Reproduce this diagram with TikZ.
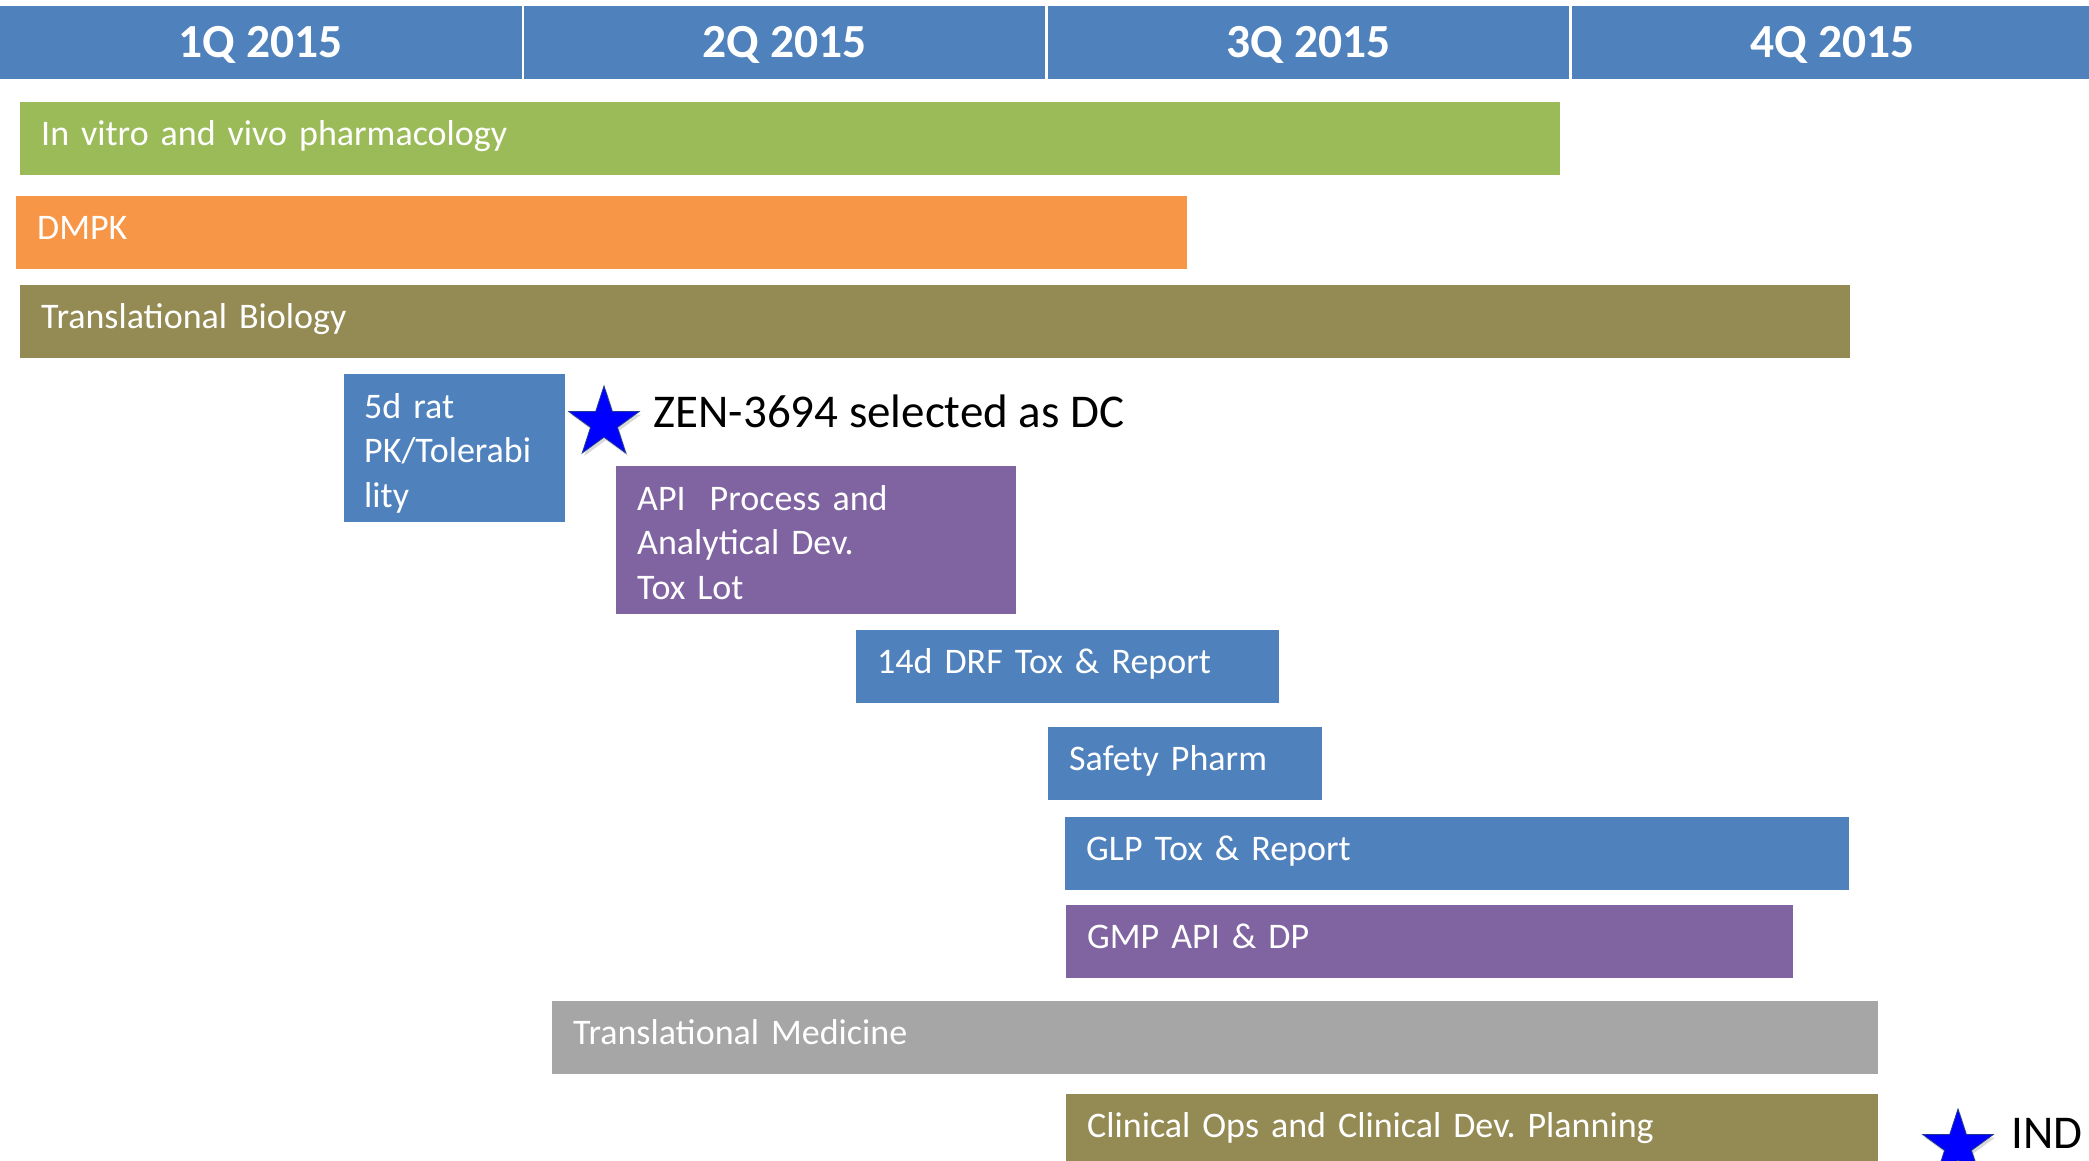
\documentclass[tikz,border=0pt]{standalone}
\usepackage{fontspec}
\setmainfont{Carlito}
\usepackage{xcolor}
\usepackage{tikz}
\usetikzlibrary{positioning,shapes.geometric,shadows}
\frenchspacing

\definecolor{hdrblue}{HTML}{4F81BD}
\definecolor{pharmgreen}{HTML}{9BBB59}
\definecolor{dmpkorange}{HTML}{F79646}
\definecolor{olive}{HTML}{948A54}
\definecolor{cmcpurple}{HTML}{8064A2}
\definecolor{medgrey}{HTML}{A6A6A6}
\definecolor{starblue}{HTML}{0000FF}
\definecolor{starrim}{HTML}{1F3A93}

\begin{document}
\begin{tikzpicture}[x=1pt,y=-1pt,
		quarter/.style={rectangle, fill=hdrblue, text=white, inner sep=0pt, minimum width=521.5pt,
			text height=52pt, text depth=21pt, font=\fontsize{47.5}{56}\selectfont\bfseries},
		bar/.style={rectangle, anchor=north west, text=white, align=left, inner xsep=21pt, inner ysep=0pt,
			text height=43pt, text depth=30pt, font=\fontsize{36}{44.5}\selectfont},
		tall/.style={text height=44pt, text depth=104pt},
		milestone/.style={star, star points=5, star point ratio=2.618, minimum size=74pt, inner sep=0pt,
			fill=starblue, draw=starrim, line width=0.8pt,
			drop shadow={shadow xshift=2pt, shadow yshift=-3pt, opacity=0.3}},
		note/.style={anchor=base west, font=\fontsize{47}{56}\selectfont}]
	\useasboundingbox (0,0) rectangle (2089,1161);
	\clip (0,0) rectangle (2089,1161);

	% quarters
	\node[quarter] (q1) at (260.75,42.5) {1Q 2015};
	\node[quarter] (q2) [right=2pt of q1] {2Q 2015};
	\node[quarter] (q3) [right=2pt of q2] {3Q 2015};
	\node[quarter] (q4) [right=2pt of q3] {4Q 2015};

	% work streams
	\node[bar, fill=pharmgreen, text width=1498pt]       (vitro)          at (20,102)   {In vitro and vivo pharmacology};
	\node[bar, fill=dmpkorange, text width=1129pt]       (dmpk)           at (16,196)   {DMPK};
	\node[bar, fill=olive,      text width=1788pt]       (trans-biology)  at (20,285)   {Translational Biology};
	\node[bar, tall, fill=hdrblue, text width=181pt,
		inner xsep=20pt]                                 (rat-pk)         at (344,374)  {5d rat\\PK/Tolerabi\\lity};
	\node[bar, tall, fill=cmcpurple, text width=358pt]   (api-process)    at (616,466)  {API~~Process and\\Analytical Dev.\\Tox Lot};
	\node[bar, fill=hdrblue,    text width=381pt]        (drf-tox)        at (856,630)  {14d DRF Tox \& Report};
	\node[bar, fill=hdrblue,    text width=232pt]        (safety-pharm)   at (1048,727) {Safety Pharm};
	\node[bar, fill=hdrblue,    text width=742pt]        (glp-tox)        at (1065,817) {GLP Tox \& Report};
	\node[bar, fill=cmcpurple,  text width=685pt]        (gmp-api)        at (1066,905) {GMP API \& DP};
	\node[bar, fill=medgrey,    text width=1284pt]       (trans-medicine) at (552,1001) {Translational Medicine};
	\node[bar, fill=olive,      text width=770pt]        (clinical-ops)   at (1066,1094) {Clinical Ops and Clinical Dev. Planning};

	% milestones
	\node[milestone] (dc-star)  at (604,423)  {};
	\node[note]      (dc-label) at (650,427)  {ZEN-3694 selected as DC};
	\node[milestone] (ind-star)  at (1958,1146) {};
	\node[note]      (ind-label) at (2008,1148) {IND};
\end{tikzpicture}
\end{document}
